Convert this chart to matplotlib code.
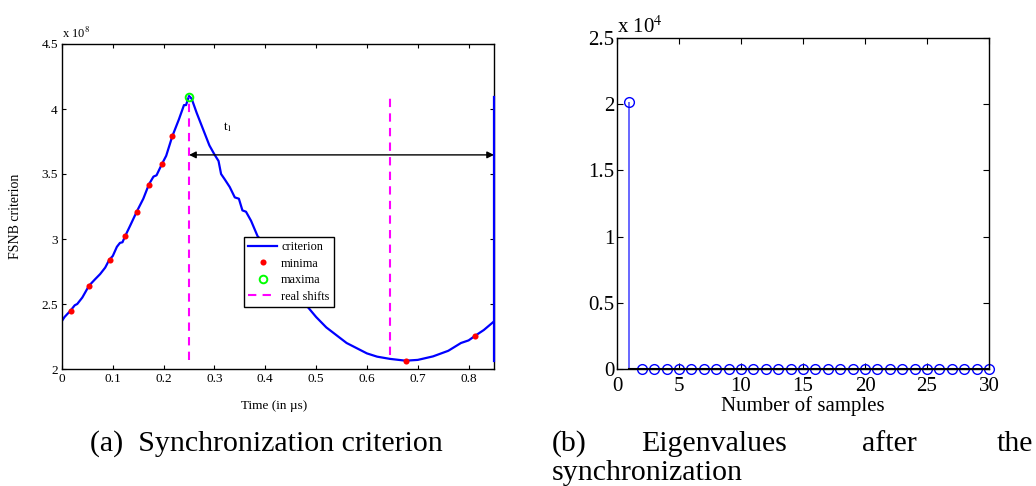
"""
Synchronization criterion (a) and eigenvalues after synchronization (b).
Writes: out.png
"""
import numpy as np
import matplotlib.pyplot as plt

plt.rcParams.update({
    "font.family": ["Liberation Serif", "DejaVu Serif"],
    "mathtext.fontset": "stix",
    "xtick.direction": "in",
    "ytick.direction": "in",
    "xtick.top": True,
    "ytick.right": True,
    "axes.linewidth": 1.0,
})

# (a) FSNB criterion vs time, values in units of 1e8
time_us = [0.000, 0.005, 0.017, 0.025, 0.030, 0.040, 0.053, 0.065, 0.075, 0.085,
           0.093, 0.100, 0.108, 0.114, 0.119, 0.124, 0.135, 0.147, 0.160, 0.171,
           0.180, 0.186, 0.197, 0.205, 0.217, 0.230, 0.240, 0.244, 0.250, 0.255,
           0.265, 0.280, 0.290, 0.300, 0.308, 0.313, 0.320, 0.330, 0.340, 0.348,
           0.355, 0.362, 0.372, 0.385, 0.393, 0.410, 0.430, 0.450, 0.470, 0.485,
           0.500, 0.520, 0.540, 0.560, 0.580, 0.600, 0.620, 0.645, 0.676, 0.700,
           0.730, 0.760, 0.785, 0.800, 0.813, 0.830, 0.850]
criterion = [2.37, 2.40, 2.45, 2.49, 2.50, 2.55, 2.64, 2.69, 2.73, 2.78,
             2.84, 2.87, 2.94, 2.97, 2.975, 3.02, 3.11, 3.21, 3.31, 3.42,
             3.48, 3.49, 3.58, 3.64, 3.79, 3.92, 4.03, 4.03, 4.10, 4.08,
             3.97, 3.82, 3.72, 3.65, 3.60, 3.50, 3.46, 3.40, 3.32, 3.31,
             3.22, 3.21, 3.14, 3.02, 2.99, 2.88, 2.76, 2.64, 2.54, 2.47,
             2.40, 2.32, 2.26, 2.20, 2.16, 2.12, 2.095, 2.078, 2.064, 2.07,
             2.097, 2.14, 2.20, 2.22, 2.256, 2.30, 2.366]
edge_t = [0.85, 0.85]
edge_v = [2.06, 4.09]

minima_t = [0.017, 0.054, 0.094, 0.124, 0.147, 0.171, 0.197, 0.217, 0.676, 0.813]
minima_v = [2.448, 2.638, 2.84, 3.022, 3.206, 3.414, 3.58, 3.79, 2.064, 2.256]
maxima_t = [0.250]
maxima_v = [4.093]

shift_t = [0.25, 0.646]
shift_lo = [2.067, 2.11]
shift_hi = [4.09, 4.085]

arrow_y = 3.647
arrow_t = [0.25, 0.85]

# (b) eigenvalues
sample_idx = list(range(1, 31))
eigenvalues = [20200, 4, 3, 3, 2, 2, 2, 2, 1, 1, 1, 1, 1, 1, 1,
               1, 1, 1, 1, 1, 1, 1, 1, 1, 1, 1, 1, 1, 1, 1]

BLUE = "#0000ff"
STEM = "#5c5cff"

fig = plt.figure(figsize=(10.36, 4.86), dpi=100)
fig.patch.set_facecolor("white")

# ---- (a) ----
ax1 = fig.add_axes([62 / 1036, 117 / 486, 432 / 1036, 325 / 486])
ax1.plot(time_us, criterion, color=BLUE, lw=1.6, label="criterion")
ax1.plot(minima_t, minima_v, "o", color="red", ms=4.4, mec="none", label="minima")
ax1.plot(maxima_t, maxima_v, "o", mfc="none", mec="#00ff00", mew=1.4, ms=5.5,
         label="maxima", zorder=4)
for i, (t, lo, hi) in enumerate(zip(shift_t, shift_lo, shift_hi)):
    ax1.plot([t, t], [lo, hi], color="magenta", lw=1.5, dashes=(4, 3),
             label="real shifts" if i == 0 else None)
ax1.plot(edge_t, edge_v, color=BLUE, lw=1.6, zorder=5, clip_on=False)
ax1.annotate("", xy=(arrow_t[0], arrow_y), xytext=(arrow_t[1], arrow_y),
             arrowprops=dict(arrowstyle="<|-|>", color="k", lw=1.0,
                             mutation_scale=10, shrinkA=0, shrinkB=0))
ax1.text(0.327, 3.86, "t$_1$", fontsize=9.5, ha="center", va="center")

ax1.set_xlim(0, 0.85)
ax1.set_ylim(2, 4.5)
ax1.set_xticks(np.arange(0, 0.81, 0.1))
ax1.set_xticklabels(["0", "0.1", "0.2", "0.3", "0.4", "0.5", "0.6", "0.7", "0.8"])
ax1.set_yticks([2, 2.5, 3, 3.5, 4, 4.5])
ax1.set_yticklabels(["2", "2.5", "3", "3.5", "4", "4.5"])
ax1.tick_params(labelsize=9.5, length=3, width=0.8, pad=3)
ax1.set_xlabel("Time (in µs)", fontsize=9.5)
ax1.set_ylabel("FSNB criterion", fontsize=10)
ax1.xaxis.set_label_coords(0.49, -0.095)
ax1.yaxis.set_label_coords(-0.092, 0.47)
ax1.text(0.0, 1.008, "x 10$^{8}$", transform=ax1.transAxes, fontsize=9,
         ha="left", va="bottom")

leg = ax1.legend(loc="upper left", bbox_to_anchor=(0.421, 0.406), borderaxespad=0,
                 fontsize=8.8, frameon=True, fancybox=False, framealpha=1,
                 edgecolor="black", handlelength=2.4, handletextpad=0.3,
                 labelspacing=0.36, borderpad=0.35)
leg.get_frame().set_linewidth(1.0)

# ---- (b) ----
ax2 = fig.add_axes([617 / 1036, 117 / 486, 372 / 1036, 331 / 486])
vals = np.array(eigenvalues) / 1e4
markerline, stemlines, baseline = ax2.stem(sample_idx, vals, basefmt="k-")
markerline.set_markerfacecolor("none")
markerline.set_markeredgecolor(BLUE)
markerline.set_markersize(7)
markerline.set_markeredgewidth(1.0)
markerline.set_clip_on(False)
stemlines.set_color(STEM)
stemlines.set_linewidth(1.3)
baseline.set_linewidth(1.5)

ax2.set_xlim(0, 30)
ax2.set_ylim(0, 2.5)
ax2.set_xticks([0, 5, 10, 15, 20, 25, 30])
ax2.set_yticks([0, 0.5, 1, 1.5, 2, 2.5])
ax2.set_yticklabels(["0", "0.5", "1", "1.5", "2", "2.5"])
ax2.tick_params(axis="y", labelsize=15, length=4, width=0.8, pad=2)
ax2.tick_params(axis="x", labelsize=15, length=4, width=0.8, pad=6)
ax2.set_xlabel("Number of samples", fontsize=15, labelpad=0)
ax2.text(0.0, 1.0, "x 10$^{4}$", transform=ax2.transAxes, fontsize=15,
         ha="left", va="bottom")

# ---- captions ----
cap = 21.5
fig.text(266 / 1036, 1 - 451 / 486, "(a)  Synchronization criterion", fontsize=cap,
         ha="center", va="baseline")
fig.text(552 / 1036, 1 - 451 / 486, "(b)", fontsize=cap, ha="left", va="baseline")
fig.text(641 / 1036, 1 - 451 / 486, "Eigenvalues", fontsize=cap, ha="left", va="baseline")
fig.text(862 / 1036, 1 - 451 / 486, "after", fontsize=cap, ha="left", va="baseline")
fig.text(1033 / 1036, 1 - 451 / 486, "the", fontsize=cap, ha="right", va="baseline")
fig.text(552 / 1036, 1 - 480 / 486, "synchronization", fontsize=cap, ha="left", va="baseline")

fig.savefig("out.png", dpi=100)
